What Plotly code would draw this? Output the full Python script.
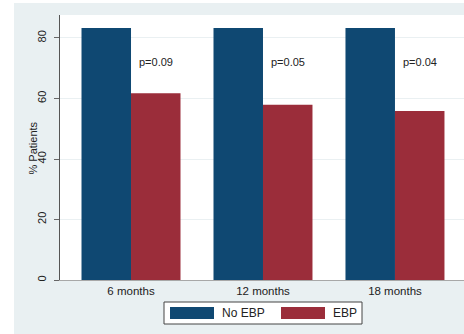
import plotly.graph_objects as go

categories = ["6 months", "12 months", "18 months"]
series_names = ["No EBP", "EBP"]
no_ebp = [83.3, 83.3, 83.3]
ebp = [61.7, 57.9, 55.9]
p_labels = ["p=0.09", "p=0.05", "p=0.04"]
p_y = [72, 72, 72]
y_ticks = [0, 20, 40, 60, 80]

BLUE = "#0f4872"
RED = "#9b2d3a"
BG = "#e9f0f2"
FONT = "Liberation Sans, Arial, sans-serif"

fig = go.Figure()
fig.add_trace(go.Bar(x=categories, y=no_ebp, name=series_names[0], marker=dict(color=BLUE, line=dict(width=0))))
fig.add_trace(go.Bar(x=categories, y=ebp, name=series_names[1], marker=dict(color=RED, line=dict(width=0))))

W, H = 464, 334
ml, mr, mt, mb = 60, 0, 15, 54
pw = W - ml - mr
ph = H - mt - mb

def px_x(px):
    return (px - ml) / pw

def px_y(py):
    return (H - mb - py) / ph

shapes = []
# white strips outside the Stata-like background
shapes.append(dict(type="rect", xref="paper", yref="paper", x0=px_x(0), x1=px_x(14), y0=px_y(H), y1=px_y(0),
                   fillcolor="white", line=dict(width=0), layer="below"))
shapes.append(dict(type="rect", xref="paper", yref="paper", x0=px_x(0), x1=px_x(W), y0=px_y(3), y1=px_y(0),
                   fillcolor="white", line=dict(width=0), layer="below"))
# custom legend
shapes.append(dict(type="rect", xref="paper", yref="paper", x0=px_x(164), x1=px_x(362), y0=px_y(324), y1=px_y(302),
                   fillcolor="white", line=dict(color="#444444", width=1)))
shapes.append(dict(type="rect", xref="paper", yref="paper", x0=px_x(170), x1=px_x(214), y0=px_y(319), y1=px_y(307),
                   fillcolor=BLUE, line=dict(width=0)))
shapes.append(dict(type="rect", xref="paper", yref="paper", x0=px_x(281), x1=px_x(325), y0=px_y(319), y1=px_y(307),
                   fillcolor=RED, line=dict(width=0)))

annotations = []
for i, (lab, yv) in enumerate(zip(p_labels, p_y)):
    annotations.append(dict(x=i + 0.1875, y=yv, xref="x", yref="y", text=lab, showarrow=False,
                            font=dict(family=FONT, size=11, color="#222222")))
annotations.append(dict(x=px_x(220), y=px_y(313), xref="paper", yref="paper", text=series_names[0],
                        showarrow=False, xanchor="left", yanchor="middle",
                        font=dict(family=FONT, size=12, color="#222222")))
annotations.append(dict(x=px_x(331), y=px_y(313), xref="paper", yref="paper", text=series_names[1],
                        showarrow=False, xanchor="left", yanchor="middle",
                        font=dict(family=FONT, size=12, color="#222222")))
annotations.append(dict(x=px_x(32), y=0.5, xref="paper", yref="paper", text="% Patients", textangle=-90,
                        showarrow=False, xanchor="center", yanchor="middle",
                        font=dict(family=FONT, size=11, color="#222222")))

fig.update_layout(
    width=W, height=H,
    margin=dict(l=ml, r=mr, t=mt, b=mb, pad=0),
    paper_bgcolor=BG, plot_bgcolor="white",
    barmode="group", bargap=0.25, bargroupgap=0,
    showlegend=False,
    shapes=shapes, annotations=annotations,
    font=dict(family=FONT, color="#222222"),
)
fig.update_xaxes(
    range=[-0.538, 2.523], showline=True, linecolor="#a8a8a8", linewidth=1,
    ticks="", showgrid=False, tickfont=dict(family=FONT, size=11.5, color="#222222"),
    fixedrange=True,
)
fig.update_yaxes(
    range=[0, 87.6], tickvals=y_ticks, tickangle=-90,
    showline=True, linecolor="#555555", linewidth=1,
    ticks="outside", ticklen=5, tickcolor="#666666",
    ticklabelstandoff=4,
    showgrid=True, gridcolor="#eaf0f2", gridwidth=1, zeroline=False,
    tickfont=dict(family=FONT, size=11, color="#222222"),
    fixedrange=True,
)

fig.write_html(
    "out.html",
    config={"displayModeBar": False},
    post_script="document.body.style.margin='0';document.body.style.padding='0';document.body.style.overflow='hidden';",
)
